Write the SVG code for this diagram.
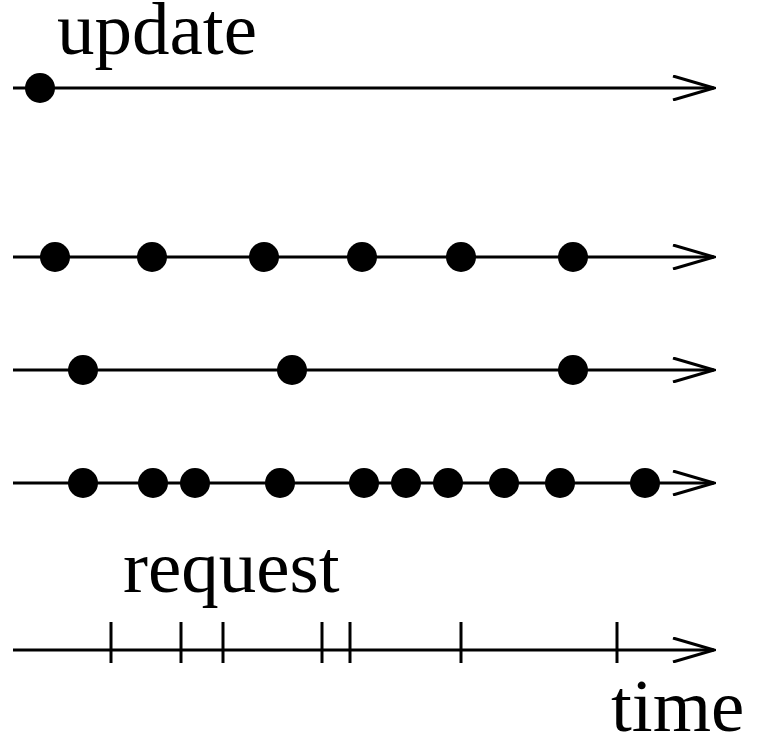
<svg xmlns="http://www.w3.org/2000/svg" width="765" height="743" viewBox="0 0 765 743">
  <style>
    .axis { stroke: #000; stroke-width: 3; fill: none; }
    .tick { stroke: #000; stroke-width: 3; }
    .ev { fill: #000; }
    .lbl { font-family: "Liberation Serif", "Times New Roman", serif; font-size: 75px; fill: #000; }
  </style>
  <defs>
    <marker id="open" viewBox="0 0 44 26" refX="42" refY="13" markerWidth="44" markerHeight="26" markerUnits="userSpaceOnUse" orient="auto">
      <path d="M1,1 L42,13 L1,25" fill="none" stroke="#000" stroke-width="3"/>
    </marker>
  </defs>

  <!-- time axes -->
  <g id="connectors">
    <line class="axis" x1="13" y1="88" x2="714" y2="88" marker-end="url(#open)"/>
    <line class="axis" x1="13" y1="257" x2="714" y2="257" marker-end="url(#open)"/>
    <line class="axis" x1="13" y1="370" x2="714" y2="370" marker-end="url(#open)"/>
    <line class="axis" x1="13" y1="483" x2="714" y2="483" marker-end="url(#open)"/>
    <line class="axis" x1="13" y1="650" x2="714" y2="650" marker-end="url(#open)"/>
  </g>

  <!-- update stream -->
  <g id="update">
    <text class="lbl" x="57" y="54">update</text>
    <circle class="ev" cx="40" cy="88" r="15"/>
  </g>

  <g id="stream1">
    <circle class="ev" cx="55" cy="257" r="15"/>
    <circle class="ev" cx="152" cy="257" r="15"/>
    <circle class="ev" cx="264" cy="257" r="15"/>
    <circle class="ev" cx="362" cy="257" r="15"/>
    <circle class="ev" cx="461" cy="257" r="15"/>
    <circle class="ev" cx="573" cy="257" r="15"/>
  </g>

  <g id="stream2">
    <circle class="ev" cx="83" cy="370" r="15"/>
    <circle class="ev" cx="292" cy="370" r="15"/>
    <circle class="ev" cx="573" cy="370" r="15"/>
  </g>

  <g id="stream3">
    <circle class="ev" cx="83" cy="483" r="15"/>
    <circle class="ev" cx="153" cy="483" r="15"/>
    <circle class="ev" cx="195" cy="483" r="15"/>
    <circle class="ev" cx="280" cy="483" r="15"/>
    <circle class="ev" cx="364" cy="483" r="15"/>
    <circle class="ev" cx="406" cy="483" r="15"/>
    <circle class="ev" cx="448" cy="483" r="15"/>
    <circle class="ev" cx="504" cy="483" r="15"/>
    <circle class="ev" cx="560" cy="483" r="15"/>
    <circle class="ev" cx="645" cy="483" r="15"/>
  </g>

  <!-- request stream -->
  <g id="request">
    <text class="lbl" x="123" y="592">request</text>
    <line class="tick" x1="111" y1="622" x2="111" y2="663"/>
    <line class="tick" x1="181" y1="622" x2="181" y2="663"/>
    <line class="tick" x1="223" y1="622" x2="223" y2="663"/>
    <line class="tick" x1="322" y1="622" x2="322" y2="663"/>
    <line class="tick" x1="350" y1="622" x2="350" y2="663"/>
    <line class="tick" x1="461" y1="622" x2="461" y2="663"/>
    <line class="tick" x1="617" y1="622" x2="617" y2="663"/>
  </g>

  <g id="time">
    <text class="lbl" x="611" y="731">time</text>
  </g>
</svg>
